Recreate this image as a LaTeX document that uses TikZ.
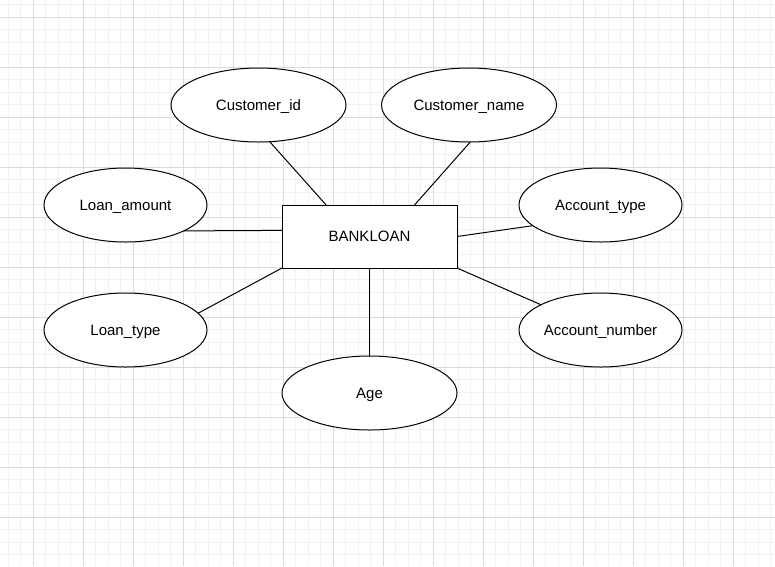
\documentclass[tikz,border=0pt]{standalone}
\usepackage{fontspec}
\setmainfont{Liberation Sans}
\usetikzlibrary{shapes.geometric}
\definecolor{gridmajor}{HTML}{DADADA}
\definecolor{gridminor}{HTML}{F1F1F1}
\begin{document}
\begin{tikzpicture}[x=1pt,y=-1pt,
  attr/.style={draw,ellipse,fill=white,line width=1pt,inner sep=0pt,outer sep=0pt,
    minimum width=163pt,minimum height=74pt,text height=10.5pt,text depth=0pt,
    font=\fontsize{15}{18}\selectfont},
  wide/.style={minimum width=175pt},
  entity/.style={draw,rectangle,fill=white,line width=1pt,inner sep=0pt,outer sep=0pt,
    minimum width=175pt,minimum height=63pt,text height=10.5pt,text depth=0pt,
    font=\fontsize{15}{18}\selectfont},
  link/.style={line width=1pt}]
  \useasboundingbox (0,0) rectangle (775,566);
  \fill[white] (0,0) rectangle (775,566);
  \foreach \x in {8,20.5,...,775} \draw[gridminor,line width=1pt] (\x,0) -- (\x,566);
  \foreach \y in {4.5,17,...,566} \draw[gridminor,line width=1pt] (0,\y) -- (775,\y);
  \foreach \x in {33,83,...,775} \draw[gridmajor,line width=1pt] (\x,0) -- (\x,566);
  \foreach \y in {17,67,...,566} \draw[gridmajor,line width=1pt] (0,\y) -- (775,\y);
  \node[entity] (bank) at (369.5,236.5) {BANKLOAN};
  \node[attr,wide] (cid) at (258.5,105) {Customer\_id};
  \node[attr,wide] (cname) at (469,105) {Customer\_name};
  \node[attr] (lamount) at (125.5,205) {Loan\_amount};
  \node[attr] (atype) at (600.5,205) {Account\_type};
  \node[attr] (ltype) at (125.5,330) {Loan\_type};
  \node[attr] (anum) at (600.5,330) {Account\_number};
  \node[attr,wide] (age) at (369.5,393) {Age};
  \draw[link] (cid.287) -- (bank.144);
  \draw[link] (cname.272) -- (bank.35);
  \draw[link] (lamount.-24) -- (bank.176);
  \draw[link] (atype.197) -- (bank.0);
  \draw[link] (anum.157) -- (bank.south east);
  \draw[link] (ltype.13) -- (bank.south west);
  \draw[link] (age.north) -- (bank.south);
\end{tikzpicture}
\end{document}
